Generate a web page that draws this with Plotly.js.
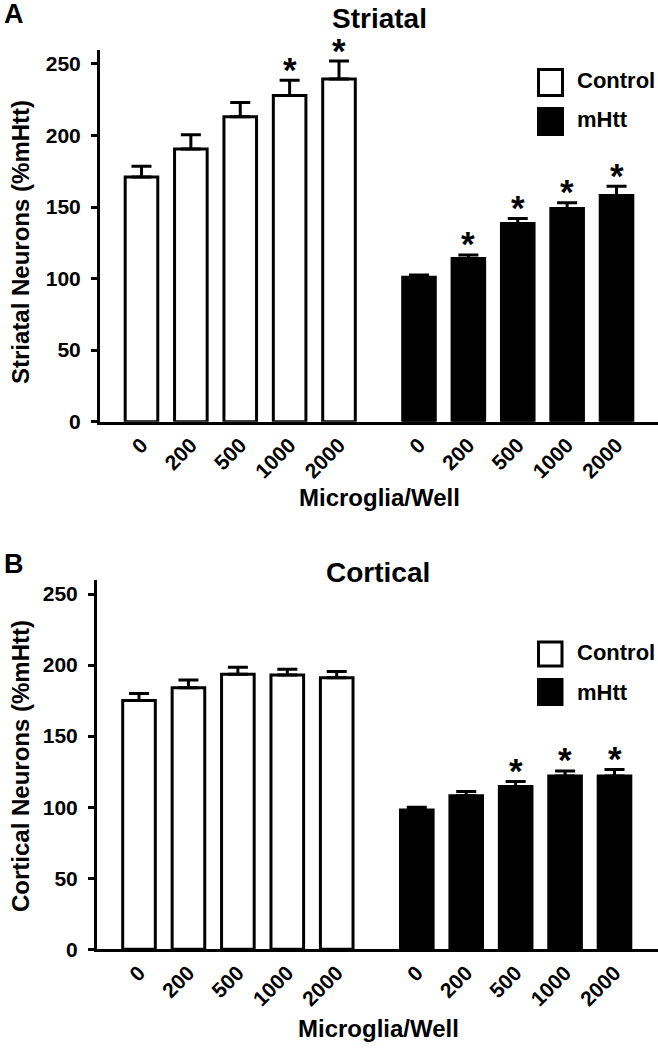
<!DOCTYPE html>
<html>
<head>
<meta charset="utf-8">
<script src="https://cdn.plot.ly/plotly-3.0.1.min.js"></script>
<style>html,body{margin:0;padding:0;background:#fff;}#chart{width:658px;height:1048px;}</style>
</head>
<body>
<div id="chart"></div>
<script>
// ---- data ----
const doses = ["0", "200", "500", "1000", "2000"];
const groups = ["Control", "mHtt"];

const striatalControl = [171, 190.5, 213, 228, 239.5];
const striatalControlErr = [7.5, 10, 10, 10.5, 12.5];
const striatalControlSig = [0, 0, 0, 1, 1];
const striatalMhtt = [101, 114, 138.5, 149, 158];
const striatalMhttErr = [1.5, 2.5, 3.5, 4, 6.5];
const striatalMhttSig = [0, 1, 1, 1, 1];

const corticalControl = [175, 184, 193.5, 193, 191];
const corticalControlErr = [5, 5.5, 5, 4, 4.5];
const corticalControlSig = [0, 0, 0, 0, 0];
const corticalMhtt = [98, 108, 114.5, 122, 122];
const corticalMhttErr = [2, 3, 3.5, 3.5, 4.5];
const corticalMhttSig = [0, 0, 1, 1, 1];

const yTicks = [0, 50, 100, 150, 200, 250];

// ---- layout helpers ----
const W = 658, H = 1048;
const FONT = "Liberation Sans, Arial, sans-serif";
const px = v => v / W;
const py = v => 1 - v / H;
const GROUP_OFFSET = 5.62;
const posControl = doses.map((d, i) => i);
const posMhtt = doses.map((d, i) => i + GROUP_OFFSET);
const tickPos = posControl.concat(posMhtt);
const tickText = doses.concat(doses);

function barTrace(name, pos, vals, errs, fill, xa, ya) {
  return {
    type: "bar", name: name, x: pos, y: vals, xaxis: xa, yaxis: ya,
    width: 0.66,
    marker: {color: fill, line: {color: "#000", width: 3}},
    error_y: {type: "data", symmetric: false, array: errs, arrayminus: errs.map(() => 0),
              color: "#000", thickness: 3, width: 10, visible: true},
    hoverinfo: "x+y"
  };
}

const traces = [
  barTrace(groups[0], posControl, striatalControl, striatalControlErr, "#fff", "x", "y"),
  barTrace(groups[1], posMhtt, striatalMhtt, striatalMhttErr, "#000", "x", "y"),
  barTrace(groups[0], posControl, corticalControl, corticalControlErr, "#fff", "x2", "y2"),
  barTrace(groups[1], posMhtt, corticalMhtt, corticalMhttErr, "#000", "x2", "y2")
];

const annotations = [];
function stars(pos, vals, errs, sig, xr, yr) {
  sig.forEach((s, i) => {
    if (s) annotations.push({
      x: pos[i], y: vals[i] + errs[i], xref: xr, yref: yr, text: "*", showarrow: false,
      yanchor: "middle", yshift: 11, font: {family: FONT, size: 35, color: "#000", weight: "bold"}
    });
  });
}
stars(posControl, striatalControl, striatalControlErr, striatalControlSig, "x", "y");
stars(posMhtt, striatalMhtt, striatalMhttErr, striatalMhttSig, "x", "y");
stars(posControl, corticalControl, corticalControlErr, corticalControlSig, "x2", "y2");
stars(posMhtt, corticalMhtt, corticalMhttErr, corticalMhttSig, "x2", "y2");

function txt(text, x, y, size, opts) {
  annotations.push(Object.assign({
    text: text, x: px(x), y: py(y), xref: "paper", yref: "paper", showarrow: false,
    xanchor: "center", yanchor: "middle",
    font: {family: FONT, size: size, color: "#000", weight: "bold"}
  }, opts || {}));
}
// panel letters and titles
txt("A", 14, 14, 27);
txt("B", 14, 564, 27);
txt("Striatal", 379, 18, 28);
txt("Cortical", 378, 572, 28);
// axis titles
txt("Striatal Neurons (%mHtt)", 20, 242, 24, {textangle: -90});
txt("Cortical Neurons (%mHtt)", 20, 766, 24, {textangle: -90});
txt("Microglia/Well", 379, 497, 24);
txt("Microglia/Well", 378, 1028, 24);
// legends
txt(groups[0], 575, 80, 22, {xanchor: "left"});
txt(groups[1], 575, 120, 22, {xanchor: "left"});
txt(groups[0], 575, 652, 22, {xanchor: "left"});
txt(groups[1], 575, 692, 22, {xanchor: "left"});

function box(x0, y0, x1, y1, fill) {
  return {type: "rect", xref: "paper", yref: "paper", x0: px(x0), x1: px(x1), y0: py(y1), y1: py(y0),
          fillcolor: fill, line: {color: "#000", width: 3}};
}
const shapes = [
  box(538.5, 69.5, 562.5, 95.5, "#fff"),
  box(538.5, 108.5, 562.5, 134.5, "#000"),
  box(538.5, 642, 562, 666, "#fff"),
  box(538.5, 679.5, 562, 704.5, "#000")
];

function xAxis(dom, anchor, range) {
  return {domain: dom, anchor: anchor, range: range, tickvals: tickPos, ticktext: tickText,
          tickangle: -45, ticks: "", showline: true, linewidth: 3, linecolor: "#000",
          showgrid: false, zeroline: false, fixedrange: true,
          tickfont: {family: FONT, size: 21, color: "#000", weight: "bold"}};
}
function yAxis(dom, anchor) {
  return {domain: dom, anchor: anchor, range: [0, 260], tickvals: yTicks,
          ticks: "outside", ticklen: 6, tickwidth: 3, tickcolor: "#000",
          showline: true, linewidth: 3, linecolor: "#000", showgrid: false, zeroline: false,
          ticklabelstandoff: 6, fixedrange: true,
          tickfont: {family: FONT, size: 21, color: "#000", weight: "bold"}};
}

const layout = {
  width: W, height: H, margin: {l: 0, r: 0, t: 0, b: 0, pad: 0},
  paper_bgcolor: "#fff", plot_bgcolor: "rgba(0,0,0,0)",
  showlegend: false, barmode: "overlay",
  xaxis: xAxis([px(100), 1], "y", [-0.84, 10.46]),
  yaxis: yAxis([py(421.7), py(49.6)], "x"),
  xaxis2: xAxis([px(97), 1], "y2", [-0.85, 10.5]),
  yaxis2: yAxis([py(949.3), py(579.8)], "x2"),
  annotations: annotations,
  shapes: shapes
};

Plotly.newPlot("chart", traces, layout, {staticPlot: true, displayModeBar: false});
</script>
</body>
</html>
